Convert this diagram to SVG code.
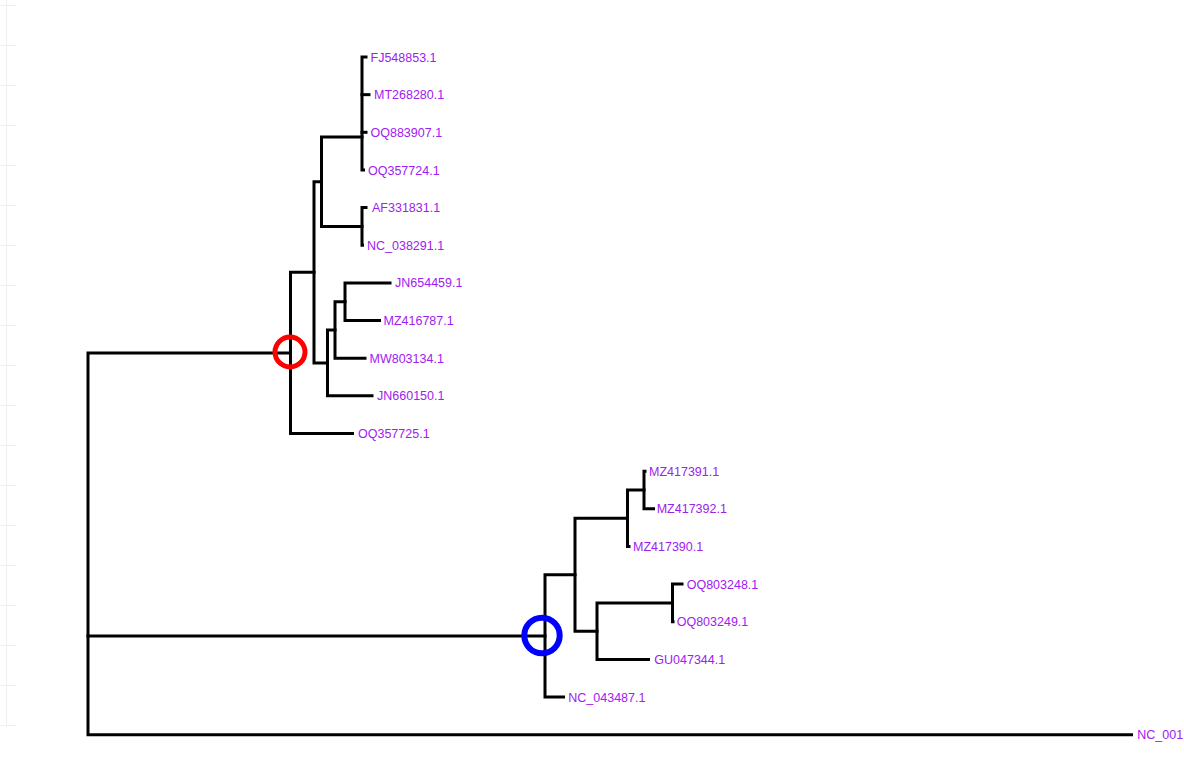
<svg xmlns="http://www.w3.org/2000/svg" width="1184" height="763" viewBox="0 0 1184 763">
<style>
.br{fill:none;stroke:#000;stroke-width:3;stroke-linejoin:miter;stroke-linecap:square}
.lb{font-family:"Liberation Sans",Arial,sans-serif;font-size:12.5px;fill:#a020f0}
.grid{stroke:#f0f0f0;stroke-width:1;fill:none}
</style>
<rect width="1184" height="763" fill="#fff"/>
<g id="grid">
<path class="grid" d="M6.5 0V727M0 5.5H16M0 45.5H16M0 85.5H16M0 125.5H16M0 165.5H16M0 205.5H16M0 245.5H16M0 285.5H16M0 325.5H16M0 365.5H16M0 405.5H16M0 445.5H16M0 485.5H16M0 525.5H16M0 565.5H16M0 605.5H16M0 645.5H16M0 685.5H16M0 725.5H16"/>
</g>
<g id="connectors">
<!-- root -->
<path class="br" d="M290.5 352.9H88V734.7H1131.5"/>
<path class="br" d="M88 635.9H545"/>
<!-- clade A -->
<path class="br" d="M314 272.3H290.5V433.5H352.5"/>
<path class="br" d="M321.5 181.7H314V362.9H327.5"/>
<path class="br" d="M362 137H321.5V226.4H362"/>
<path class="br" d="M366 57H362V170H363.5"/>
<path class="br" d="M362 94.65H369"/>
<path class="br" d="M362 132.3H366"/>
<path class="br" d="M366 207.6H362V245.25H362.5"/>
<path class="br" d="M335 330H327.5V395.85H372"/>
<path class="br" d="M345 301.7H335V358.2H365"/>
<path class="br" d="M390 282.9H345V320.55H379.5"/>
<!-- clade B -->
<path class="br" d="M575 574.7H545V697.05H563.5"/>
<path class="br" d="M627.5 518.2H575V631.2H597"/>
<path class="br" d="M644 490H627.5V546.45H629"/>
<path class="br" d="M645 471.15H644V508.8H653.5"/>
<path class="br" d="M672.5 602.9H597V659.4H648.5"/>
<path class="br" d="M682 584.1H672.5V621.75H673"/>
</g>
<g id="node-red"><circle cx="290" cy="352" r="15" fill="none" stroke="#ff0000" stroke-width="5"/></g>
<g id="node-blue"><circle cx="542" cy="635.5" r="17.7" fill="none" stroke="#0000ff" stroke-width="6"/></g>
<g id="tips">
<text class="lb" x="370.5" y="61.5">FJ548853.1</text>
<text class="lb" x="374" y="99">MT268280.1</text>
<text class="lb" x="370.5" y="136.8">OQ883907.1</text>
<text class="lb" x="368" y="174.5">OQ357724.1</text>
<text class="lb" x="372" y="212">AF331831.1</text>
<text class="lb" x="367" y="249.7">NC_038291.1</text>
<text class="lb" x="395" y="287.4">JN654459.1</text>
<text class="lb" x="383.5" y="325">MZ416787.1</text>
<text class="lb" x="369.5" y="362.7">MW803134.1</text>
<text class="lb" x="377" y="400.3">JN660150.1</text>
<text class="lb" x="358" y="438">OQ357725.1</text>
<text class="lb" x="649" y="475.6">MZ417391.1</text>
<text class="lb" x="656.7" y="513.3">MZ417392.1</text>
<text class="lb" x="633" y="551">MZ417390.1</text>
<text class="lb" x="686.7" y="588.6">OQ803248.1</text>
<text class="lb" x="676.7" y="626.2">OQ803249.1</text>
<text class="lb" x="654.3" y="663.9">GU047344.1</text>
<text class="lb" x="568.3" y="701.5">NC_043487.1</text>
<text class="lb" x="1137.3" y="739.2">NC_001</text>
</g>
</svg>
